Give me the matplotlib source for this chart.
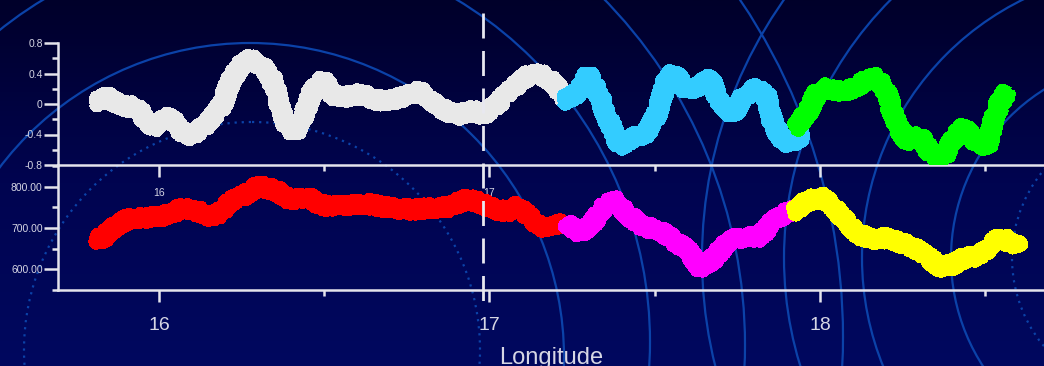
import matplotlib
matplotlib.use("Agg")
import matplotlib.pyplot as plt
import matplotlib.transforms as mtransforms
import numpy as np
from matplotlib.colors import LinearSegmentedColormap
from matplotlib.lines import Line2D
from matplotlib.patches import Circle
from matplotlib.ticker import MultipleLocator

plt.rcParams['font.family'] = ['Liberation Sans', 'DejaVu Sans']

# ---- data ----
white_x = [15.806, 15.843, 15.867, 15.903, 15.933, 15.964, 15.982, 16.012, 16.042, 16.073,
           16.100, 16.133, 16.163, 16.191, 16.215, 16.245, 16.275, 16.315, 16.342, 16.366,
           16.387, 16.411, 16.436, 16.466, 16.496, 16.526, 16.557, 16.608, 16.660, 16.708,
           16.759, 16.790, 16.829, 16.871, 16.911, 16.950, 16.980, 17.011, 17.041, 17.092,
           17.132, 17.174, 17.204, 17.234]
white_y = [0.03, 0.09, 0.03, -0.04, -0.03, -0.24, -0.31, -0.17, -0.21, -0.38,
           -0.43, -0.30, -0.17, -0.01, 0.28, 0.50, 0.58, 0.51, 0.32, -0.01,
           -0.28, -0.37, -0.17, 0.18, 0.32, 0.12, 0.09, 0.13, 0.05, 0.05,
           0.13, 0.18, 0.03, -0.10, -0.14, -0.08, -0.14, -0.05, 0.08, 0.29,
           0.42, 0.35, 0.22, 0.05]

blue_x = [17.222, 17.265, 17.298, 17.325, 17.356, 17.395, 17.434, 17.477, 17.507, 17.537,
          17.555, 17.598, 17.637, 17.667, 17.697, 17.737, 17.767, 17.809, 17.840, 17.858,
          17.888, 17.930, 17.949]
blue_y = [0.05, 0.14, 0.38, 0.18, -0.17, -0.56, -0.45, -0.37, -0.12, 0.32,
          0.41, 0.18, 0.25, 0.33, 0.03, -0.14, 0.09, 0.21, 0.08, -0.25,
          -0.50, -0.47, -0.38]

green_x = [17.924, 17.961, 17.991, 18.021, 18.061, 18.100, 18.142, 18.172, 18.203, 18.233,
           18.263, 18.303, 18.333, 18.372, 18.393, 18.433, 18.475, 18.505, 18.523, 18.545,
           18.566]
green_y = [-0.31, -0.12, 0.14, 0.21, 0.16, 0.21, 0.31, 0.35, 0.12, -0.28,
           -0.47, -0.43, -0.63, -0.72, -0.51, -0.31, -0.50, -0.56, -0.25, 0.03,
           0.16]

red_x = [15.806, 15.831, 15.861, 15.903, 15.952, 16.003, 16.033, 16.073, 16.115, 16.145,
         16.175, 16.215, 16.254, 16.297, 16.327, 16.366, 16.405, 16.448, 16.487, 16.526,
         16.578, 16.629, 16.678, 16.729, 16.781, 16.829, 16.880, 16.932, 16.971, 17.011,
         17.053, 17.083, 17.123, 17.153, 17.192, 17.222]
red_y = [675, 677, 701, 720, 725, 728, 737, 747, 742, 728,
         730, 764, 778, 800, 798, 786, 764, 781, 757, 752,
         757, 759, 752, 747, 745, 749, 752, 771, 761, 747,
         740, 752, 728, 704, 708, 713]

magenta_x = [17.234, 17.274, 17.313, 17.356, 17.386, 17.416, 17.455, 17.516, 17.555, 17.598,
             17.637, 17.676, 17.719, 17.767, 17.818, 17.858, 17.900, 17.930]
magenta_y = [713, 689, 713, 761, 764, 735, 708, 692, 672, 648,
             605, 624, 665, 680, 680, 716, 740, 745]

yellow_x = [17.918, 17.961, 18.000, 18.039, 18.082, 18.121, 18.160, 18.203, 18.242, 18.281,
            18.324, 18.363, 18.402, 18.445, 18.484, 18.514, 18.545, 18.575, 18.605]
yellow_y = [740, 765, 777, 752, 713, 684, 672, 677, 663, 655,
            631, 607, 612, 631, 631, 660, 680, 665, 653]

marker_lon = 16.98

x_ticks = [16, 17, 18]
x_labels = ['16', '17', '18']
top_yticks = [-0.8, -0.4, 0, 0.4, 0.8]
top_ylabels = ['-0.8', '-0.4', '0', '0.4', '0.8']
bot_yticks = [600, 700, 800]
bot_ylabels = ['600.00', '700.00', '800.00']

# ---- figure ----
W, H = 1044, 366
fig = plt.figure(figsize=(W / 100, H / 100), dpi=100)

# background: gradient + decorative rings (pixel coordinates)
bg = fig.add_axes([0, 0, 1, 1], zorder=-10)
cmap = LinearSegmentedColormap.from_list('bg', ['#00002a', '#000450', '#00085f'])
bg.imshow(np.linspace(0, 1, 256).reshape(-1, 1), aspect='auto', cmap=cmap,
          extent=(0, W, H, 0))
bg.set_xlim(0, W)
bg.set_ylim(H, 0)
bg.axis('off')

ring_color = '#0b42a8'
rings = [(252, 350, 228, ':'), (250, 357, 314, '-'), (250, 342, 400, '-'),
         (250, 345, 495, '-'), (239, 337, 604, '-'),
         (1150, 258, 138, ':'), (1150, 258, 199, '-'), (1150, 258, 288, '-'),
         (1150, 258, 366, '-'), (1150, 258, 448, '-')]
for cx, cy, r, ls in rings:
    style = (0, (1, 2.2)) if ls == ':' else '-'
    bg.add_patch(Circle((cx, cy), r, fill=False, ec=ring_color, lw=1.6, ls=style))

axis_col = '#e4e4ec'
text_col = '#d6d6e4'
xmin = 16 + (58 - 159) / 330.5
xmax = 16 + (W - 159) / 330.5

ax1 = fig.add_axes([58 / W, 1 - 165 / H, (W - 58) / W, 122 / H], zorder=1)
ax2 = fig.add_axes([58 / W, 1 - 290 / H, (W - 58) / W, 125 / H], zorder=2)

for ax in (ax1, ax2):
    ax.patch.set_alpha(0)
    ax.spines['top'].set_visible(False)
    ax.spines['right'].set_visible(False)
    for s in ('left', 'bottom'):
        ax.spines[s].set_color(axis_col)
        ax.spines[s].set_linewidth(1.8)
    ax.set_xlim(xmin, xmax)
    ax.set_xticks(x_ticks, labels=x_labels)
    ax.xaxis.set_minor_locator(MultipleLocator(0.5))
    ax.tick_params(axis='both', which='both', color=axis_col, width=1.8,
                   labelcolor=text_col)
    ax.tick_params(axis='y', which='major', length=10, labelsize=7.5, pad=1)
    ax.tick_params(axis='y', which='minor', length=4.3)
    ax.tick_params(axis='x', which='major', length=8.6)
    ax.tick_params(axis='x', which='minor', length=4.3)

ax1.set_ylim(-0.8, 0.8)
ax1.set_yticks(top_yticks, labels=top_ylabels)
ax1.yaxis.set_minor_locator(MultipleLocator(0.2))
ax1.tick_params(axis='x', which='major', labelsize=7.5, pad=8)

ax2.set_ylim(550, 853)
ax2.set_yticks(bot_yticks, labels=bot_ylabels)
ax2.yaxis.set_minor_locator(MultipleLocator(50))
ax2.tick_params(axis='x', which='major', labelsize=14, pad=11)
ax2.set_xlabel('Longitude', fontsize=17, color=text_col, labelpad=9)

def trace(ax, x, y, color):
    ln, = ax.plot(x, y, color=color, lw=10, solid_capstyle='butt',
                  solid_joinstyle='round', antialiased=False, zorder=3)
    ln.set_sketch_params(scale=4, length=1.5, randomness=3)

trace(ax1, white_x, white_y, '#e8e8e8')
trace(ax1, blue_x, blue_y, '#33ccff')
trace(ax1, green_x, green_y, '#00ff00')
trace(ax2, red_x, red_y, '#ff0000')
trace(ax2, magenta_x, magenta_y, '#ff00ff')
trace(ax2, yellow_x, yellow_y, '#ffff00')

# dashed marker line across both panels
tr = mtransforms.blended_transform_factory(ax1.transData, fig.transFigure)
fig.add_artist(Line2D([marker_lon, marker_lon], [1 - 13 / H, 1 - 313 / H], transform=tr,
                      color='#e8e8f0', lw=2, linestyle=(0, (9, 4.5)), zorder=5))

fig.savefig('out.png', dpi=100, facecolor='#00002a')
